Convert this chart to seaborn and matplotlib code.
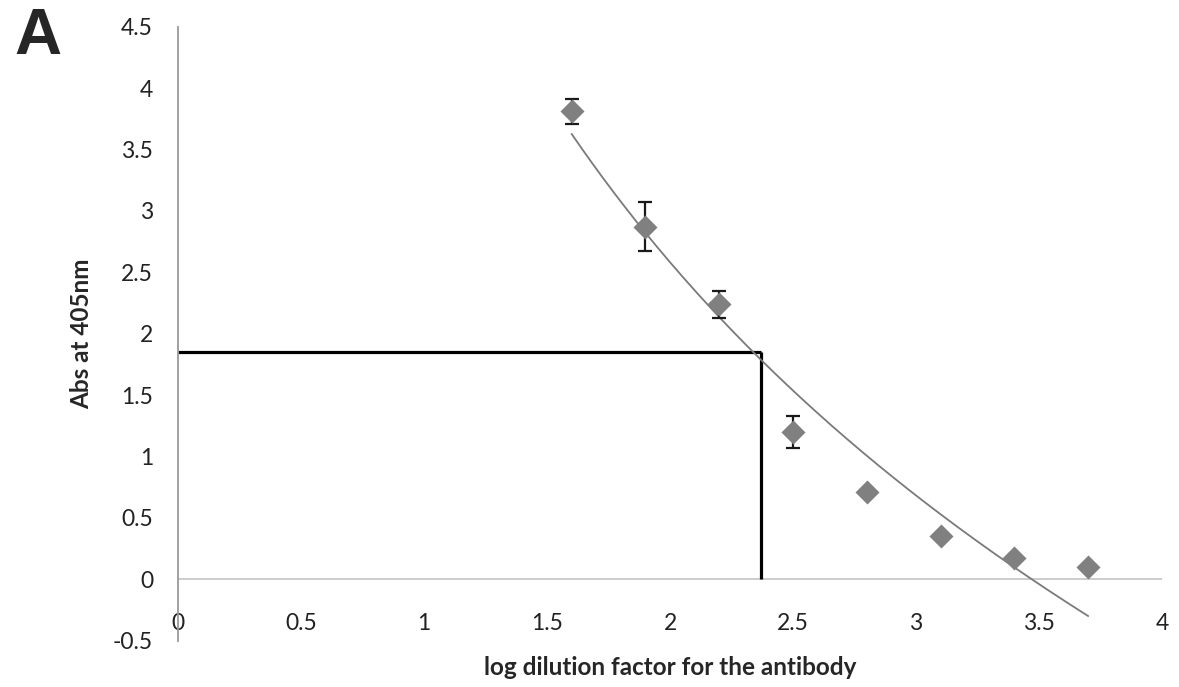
import numpy as np
import pandas as pd
import matplotlib
matplotlib.use("Agg")
import matplotlib.pyplot as plt
import seaborn as sns

# Data
log_dilution = [1.6, 1.9, 2.2, 2.5, 2.8, 3.1, 3.4, 3.7]
absorbance = [3.81, 2.87, 2.24, 1.20, 0.71, 0.35, 0.17, 0.10]
abs_error = [0.10, 0.20, 0.11, 0.13, 0.0, 0.0, 0.0, 0.0]
ref_x = 2.37
ref_y = 1.85
x_ticks = [0, 0.5, 1, 1.5, 2, 2.5, 3, 3.5, 4]
x_tick_labels = ["0", "0.5", "1", "1.5", "2", "2.5", "3", "3.5", "4"]
y_ticks = [-0.5, 0, 0.5, 1, 1.5, 2, 2.5, 3, 3.5, 4, 4.5]
y_tick_labels = ["-0.5", "0", "0.5", "1", "1.5", "2", "2.5", "3", "3.5", "4", "4.5"]

sns.set_theme(style="white")
plt.rcParams['font.family'] = ['Lato', 'DejaVu Sans']

df = pd.DataFrame({"x": log_dilution, "y": absorbance, "err": abs_error})

# Logarithmic trendline (Excel style)
slope, intercept = np.polyfit(np.log(df["x"]), df["y"], 1)
xt = np.linspace(min(log_dilution), max(log_dilution), 200)
trend = pd.DataFrame({"x": xt, "y": slope * np.log(xt) + intercept})

fig = plt.figure(figsize=(11.79, 6.87), dpi=100)
ax = fig.add_axes([0.151, 0.0676, 0.8346, 0.8934])

ax.set_xlim(0, 4)
ax.set_ylim(-0.5, 4.5)

# Reference lines
ax.plot([0, ref_x], [ref_y, ref_y], color="black", lw=2.3, solid_capstyle="butt", zorder=2)
ax.plot([ref_x, ref_x], [0, ref_y], color="black", lw=2.3, solid_capstyle="butt", zorder=2)

# Horizontal axis at y=0
ax.axhline(0, color="#c8c8c8", lw=1.3, zorder=1)

sns.lineplot(data=trend, x="x", y="y", ax=ax, color="#7a7a7a", lw=1.3, zorder=3)

errs = df[df["err"] > 0]
ax.errorbar(errs["x"], errs["y"], yerr=errs["err"], fmt="none", ecolor="#1a1a1a",
            elinewidth=1.6, capsize=5, capthick=1.6, zorder=4)
sns.scatterplot(data=df, x="x", y="y", ax=ax, marker="D", s=150, color="#808080",
                edgecolor="#808080", linewidth=0, zorder=5)

# Spines
for s in ["top", "right", "bottom"]:
    ax.spines[s].set_visible(False)
ax.spines["left"].set_color("#9a9a9a")
ax.spines["left"].set_linewidth(1.3)

ax.set_xticks(x_ticks)
ax.set_xticklabels(x_tick_labels)
ax.set_yticks(y_ticks)
ax.set_yticklabels(y_tick_labels)
ax.tick_params(axis="x", length=0, pad=-20, labelsize=16.5, labelcolor="#222222")
ax.tick_params(axis="y", length=0, pad=18, labelsize=16.5, labelcolor="#222222")

ax.set_xlabel("log dilution factor for the antibody", fontsize=17.5, fontweight="bold", labelpad=11)
ax.set_ylabel("Abs at 405nm", fontsize=17.5, fontweight="bold", labelpad=14)

fig.text(0.012, 0.922, "A", fontsize=47, fontweight="bold", family=["Liberation Sans", "DejaVu Sans"])

fig.savefig("out.png", dpi=100, facecolor="white")
